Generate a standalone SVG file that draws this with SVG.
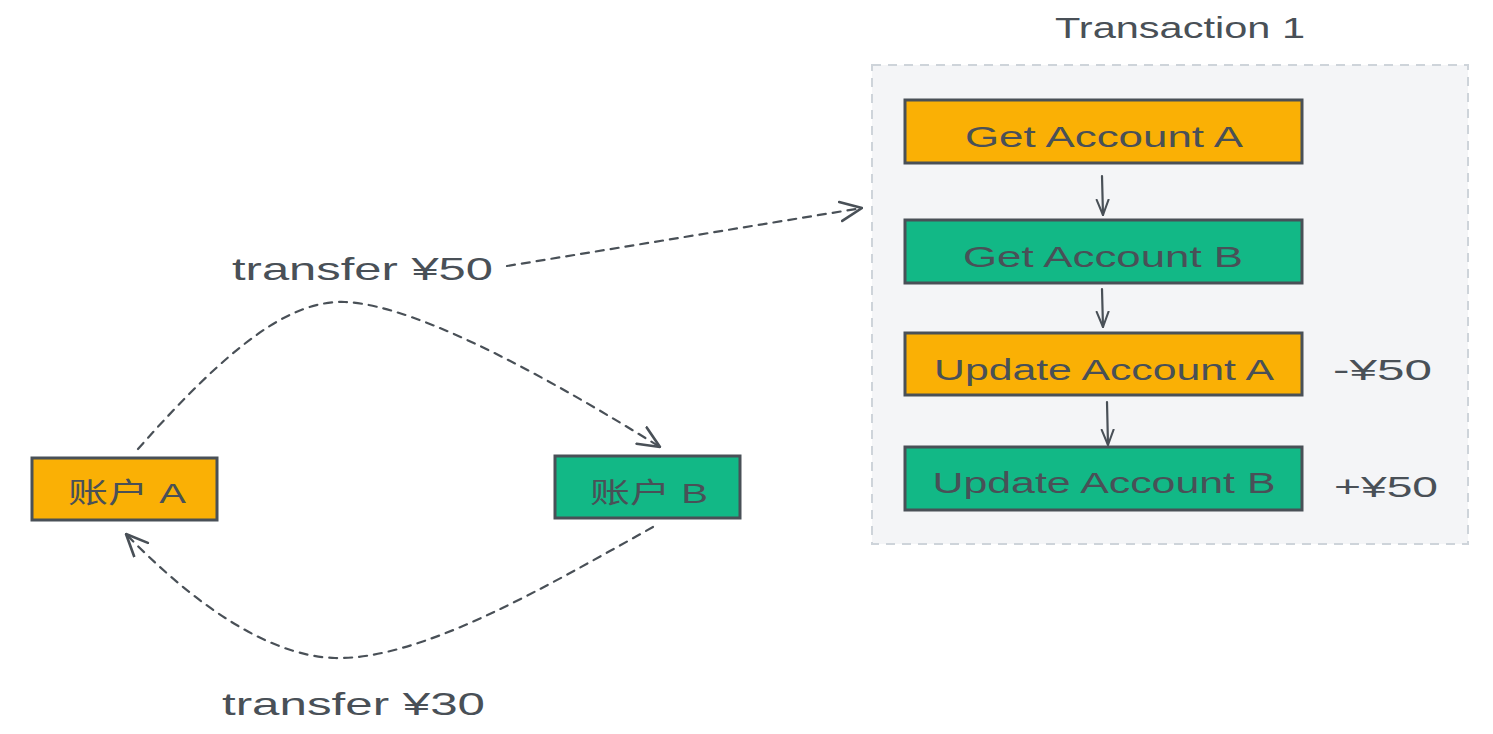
<svg xmlns="http://www.w3.org/2000/svg" width="1493" height="734" viewBox="0 0 1493 734">
<style>
.t{font-family:"Liberation Sans","Noto Sans CJK SC",sans-serif;fill:#495057;}
.box{stroke:#495057;stroke-width:3;}
.y{fill:#fab005;}
.g{fill:#12b886;}
.c{fill:none;stroke:#495057;stroke-width:2.2;stroke-linecap:round;}
.d{stroke-dasharray:8 7;}
</style>
<defs>
<marker id="ah" viewBox="0 0 20 20" refX="19" refY="10" markerWidth="24" markerHeight="24" markerUnits="userSpaceOnUse" orient="auto">
<path d="M1,2 L19,10 L1,18" fill="none" stroke="#495057" stroke-width="2.2" stroke-linecap="round" stroke-linejoin="round"/>
</marker>
<marker id="ahs" viewBox="0 0 20 20" refX="19" refY="10" markerWidth="17" markerHeight="17" markerUnits="userSpaceOnUse" orient="auto">
<path d="M1,3 L19,10 L1,17" fill="none" stroke="#495057" stroke-width="2.4" stroke-linecap="round" stroke-linejoin="round"/>
</marker>
</defs>
<rect width="1493" height="734" fill="#ffffff"/>

<g id="transaction">
<rect x="872" y="65" width="596" height="479" fill="#f4f5f7" stroke="#ced4da" stroke-width="2" stroke-dasharray="9 7"/>
<text class="t" x="1180" y="38" font-size="30" text-anchor="middle" textLength="250" lengthAdjust="spacingAndGlyphs">Transaction 1</text>
</g>

<g id="get-a">
<rect class="box y" x="905" y="100" width="397" height="63" stroke="#1e1e1e"/>
<text class="t" x="1104" y="147" font-size="30" text-anchor="middle" textLength="278" lengthAdjust="spacingAndGlyphs">Get Account A</text>
</g>
<g id="get-b">
<rect class="box g" x="905" y="220" width="397" height="63"/>
<text class="t" x="1103" y="267" font-size="30" text-anchor="middle" textLength="280" lengthAdjust="spacingAndGlyphs">Get Account B</text>
</g>
<g id="update-a">
<rect class="box y" x="905" y="333" width="397" height="62"/>
<text class="t" x="1104" y="380" font-size="30" text-anchor="middle" textLength="340" lengthAdjust="spacingAndGlyphs">Update Account A</text>
</g>
<g id="update-b">
<rect class="box g" x="905" y="447" width="397" height="63"/>
<text class="t" x="1104" y="493" font-size="30" text-anchor="middle" textLength="343" lengthAdjust="spacingAndGlyphs">Update Account B</text>
</g>
<g id="minus50">
<text class="t" x="1333" y="380" font-size="30" textLength="99" lengthAdjust="spacingAndGlyphs">-¥50</text>
</g>
<g id="plus50">
<text class="t" x="1334" y="497" font-size="30" textLength="104" lengthAdjust="spacingAndGlyphs">+¥50</text>
</g>

<g id="account-a">
<rect class="box y" x="32" y="458" width="185" height="62"/>
<text class="t" x="127" y="503" font-size="28" text-anchor="middle" textLength="118" lengthAdjust="spacingAndGlyphs">账户 A</text>
</g>
<g id="account-b">
<rect class="box g" x="555" y="456" width="185" height="62"/>
<text class="t" x="649" y="503" font-size="28" text-anchor="middle" textLength="118" lengthAdjust="spacingAndGlyphs">账户 B</text>
</g>

<g id="label-50">
<text class="t" x="232" y="280" font-size="32" textLength="261" lengthAdjust="spacingAndGlyphs">transfer ¥50</text>
</g>
<g id="label-30">
<text class="t" x="222" y="715" font-size="32" textLength="263" lengthAdjust="spacingAndGlyphs">transfer ¥30</text>
</g>

<g id="connectors">
<path class="c d" d="M138,449 C230,345 290,300 345,302 C420,305 560,385 660,447" marker-end="url(#ah)"/>
<path class="c d" d="M507,266 L862,208" marker-end="url(#ah)"/>
<path class="c d" d="M653,527 C540,590 420,660 335,658 C260,656 180,590 126,534" marker-end="url(#ah)"/>
<path class="c" d="M1102,176 L1103,215" marker-end="url(#ahs)"/>
<path class="c" d="M1102,289 L1103,327" marker-end="url(#ahs)"/>
<path class="c" d="M1107,402 L1108,445" marker-end="url(#ahs)"/>
</g>
</svg>
